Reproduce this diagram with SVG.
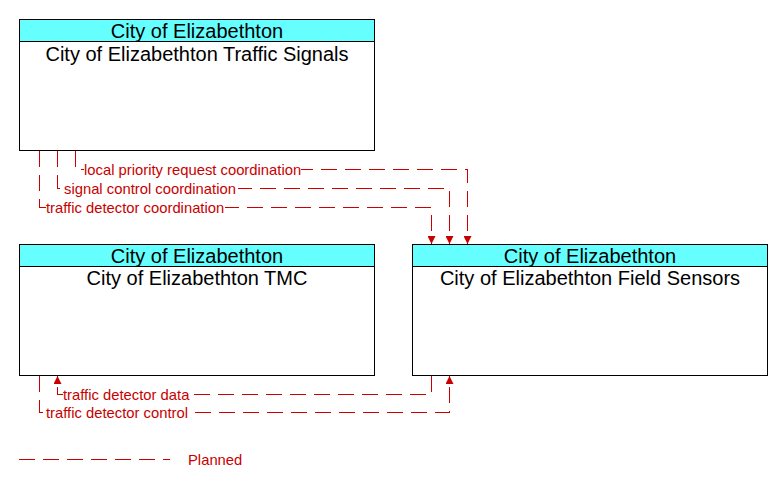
<svg xmlns="http://www.w3.org/2000/svg" width="783" height="487" viewBox="0 0 783 487">
<style>
.box{fill:#fff;stroke:#000;stroke-width:1}
.hdr{fill:#66ffff;stroke:#000;stroke-width:1}
.t{font-family:"Liberation Sans",Arial,sans-serif;font-size:20px;fill:#000;text-anchor:middle}
.c{fill:none;stroke:#cc0000;stroke-width:1.2;stroke-dasharray:16 8;shape-rendering:crispEdges}
.lbl{font-family:"Liberation Sans",Arial,sans-serif;font-size:14.8px;fill:#c80000}
.bg{fill:#fff}
</style>
<defs>
<marker id="ah" viewBox="0 0 10 10" refX="10" refY="5" markerWidth="8" markerHeight="8" markerUnits="userSpaceOnUse" orient="auto">
<path d="M0,0 L10,5 L0,10 z" fill="#c80000"/>
</marker>
</defs>
<rect width="783" height="487" fill="#fff"/>
<g id="traffic-signals">
<rect class="box" x="19.5" y="19.5" width="355" height="131"/>
<rect class="hdr" x="19.5" y="19.5" width="355" height="22"/>
<text class="t" x="197" y="38">City of Elizabethton</text>
<text class="t" x="197" y="61">City of Elizabethton Traffic Signals</text>
</g>
<g id="tmc">
<rect class="box" x="19.5" y="244.5" width="355" height="131"/>
<rect class="hdr" x="19.5" y="244.5" width="355" height="22"/>
<text class="t" x="197" y="263">City of Elizabethton</text>
<text class="t" x="197" y="285">City of Elizabethton TMC</text>
</g>
<g id="field-sensors">
<rect class="box" x="412.5" y="244.5" width="355" height="131"/>
<rect class="hdr" x="412.5" y="244.5" width="355" height="22"/>
<text class="t" x="590" y="263">City of Elizabethton</text>
<text class="t" x="590" y="285">City of Elizabethton Field Sensors</text>
</g>
<g id="connectors">
<path class="c" d="M75.5,151 V169.5 H467.5 V244" marker-end="url(#ah)"/>
<path class="c" d="M57.5,151 V188.5 H449.5 V244" marker-end="url(#ah)"/>
<path class="c" d="M39.5,151 V207.5 H431.5 V244" marker-end="url(#ah)"/>
<path class="c" d="M431.5,376 V394.5 H57.5 V376" marker-end="url(#ah)"/>
<path class="c" d="M39.5,376 V412.5 H449.5 V376" marker-end="url(#ah)"/>
<rect class="bg" x="84" y="162" width="217" height="15"/>
<text class="lbl" x="84" y="174.5">local priority request coordination</text>
<rect class="bg" x="64" y="181" width="174" height="15"/>
<text class="lbl" x="64" y="193.5">signal control coordination</text>
<rect class="bg" x="46" y="200" width="179" height="15"/>
<text class="lbl" x="46" y="212.5">traffic detector coordination</text>
<rect class="bg" x="63" y="387" width="131" height="15"/>
<text class="lbl" x="63" y="399.5">traffic detector data</text>
<rect class="bg" x="46" y="405" width="143" height="15"/>
<text class="lbl" x="46" y="417.5">traffic detector control</text>
</g>
<g id="legend">
<line class="c" x1="19" y1="459.5" x2="170" y2="459.5"/>
<text class="lbl" x="188" y="464.5">Planned</text>
</g>
</svg>
